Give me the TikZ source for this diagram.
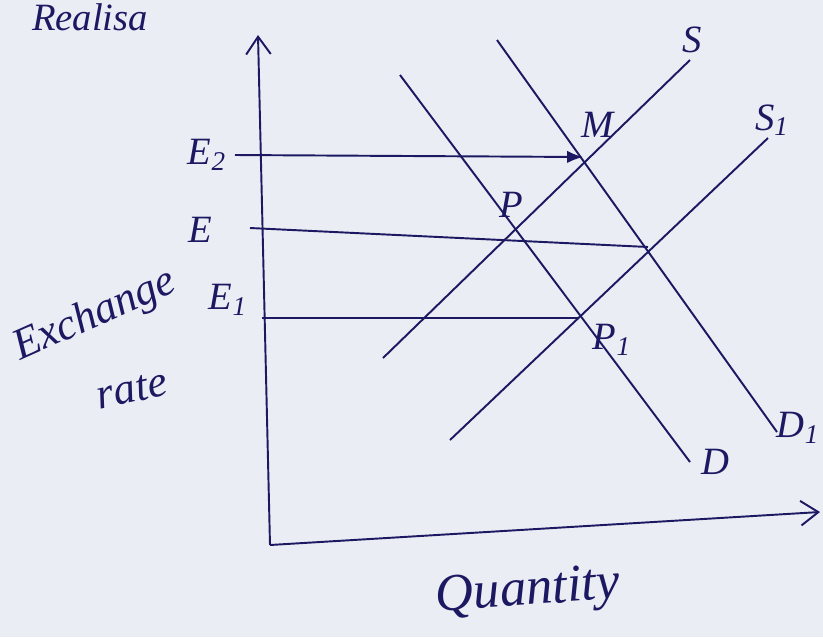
\documentclass[tikz,border=0pt]{standalone}
\usepackage{fontspec}
\setmainfont{Liberation Serif}
\usetikzlibrary{arrows.meta}
\definecolor{ink}{RGB}{28,24,98}
\definecolor{paper}{RGB}{234,237,244}
\begin{document}
\begin{tikzpicture}[x=0.02cm,y=-0.02cm,
  ln/.style={draw=ink,line width=1.1pt},
  lab/.style={text=ink,font=\itshape\fontsize{22}{24}\selectfont,inner sep=1pt}]
\fill[paper] (0,0) rectangle (823,637);
\useasboundingbox (0,0) rectangle (823,637);
\node[lab,anchor=north west] (top) at (30,2) {Realisa};
% axes
\coordinate (O) at (270,545);
\coordinate (Ytop) at (258,35);
\coordinate (Xend) at (820,512);
\draw[ln,-{Straight Barb[length=10pt,width=14pt]}] (O) -- (Ytop);
\draw[ln,-{Straight Barb[length=10pt,width=14pt]}] (O) -- (Xend);
% points
\coordinate (M) at (583,157);
\coordinate (P) at (512,235);
\coordinate (P1) at (578,318);
\coordinate (Q) at (648,247);
% curves
\coordinate (Sa) at (383,358); \coordinate (Sb) at (690,60);
\coordinate (S1a) at (450,440); \coordinate (S1b) at (768,138);
\coordinate (Da) at (400,75); \coordinate (Db) at (690,462);
\coordinate (D1a) at (497,40); \coordinate (D1b) at (777,432);
\draw[ln] (Sa) -- (Sb);
\draw[ln] (S1a) -- (S1b);
\draw[ln] (Da) -- (Db);
\draw[ln] (D1a) -- (D1b);
% exchange-rate levels
\coordinate (E2a) at (235,155);
\coordinate (Ea) at (250,228);
\coordinate (E1a) at (262,318);
\draw[ln,-{Latex[length=9pt,width=7pt]}] (E2a) -- (M);
\draw[ln] (Ea) -- (Q);
\draw[ln] (E1a) -- (P1);
% labels
\node[lab] (lE2) at (207,155) {E\textsubscript{2}};
\node[lab] (lE) at (200,230) {E};
\node[lab] (lE1) at (228,300) {E\textsubscript{1}};
\node[lab] (lS) at (692,40) {S};
\node[lab] (lS1) at (772,120) {S\textsubscript{1}};
\node[lab] (lD) at (715,462) {D};
\node[lab] (lD1) at (798,428) {D\textsubscript{1}};
\node[lab] (lP) at (511,205) {P};
\node[lab] (lM) at (598,125) {M};
\node[lab] (lP1) at (612,340) {P\textsubscript{1}};
\node[lab,rotate=24,font=\itshape\fontsize{25}{27}\selectfont] (lex) at (95,316) {Exchange};
\node[lab,rotate=12,font=\itshape\fontsize{25}{27}\selectfont] (lrate) at (132,390) {rate};
\node[lab,rotate=4,font=\itshape\fontsize{30}{32}\selectfont] (lq) at (528,593) {Quantity};
\end{tikzpicture}
\end{document}
